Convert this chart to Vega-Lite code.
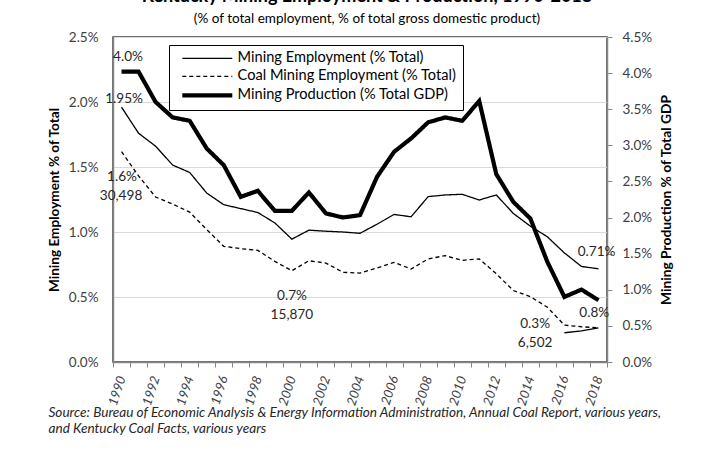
{
  "$schema": "https://vega.github.io/schema/vega-lite/v6.json",
  "width": 494,
  "height": 325,
  "autosize": {"type": "none"},
  "padding": {"left": 113, "top": 37, "right": 107, "bottom": 95},
  "config": {
    "font": "Lato",
    "view": {"stroke": "#404040", "strokeWidth": 1.5},
    "axis": {"labelColor": "#404040", "labelFont": "Lato", "titleFont": "Lato", "titleColor": "#000000"}
  },
  "title": {
    "text": "Kentucky Mining Employment & Production, 1990-2018",
    "subtitle": "(% of total employment, % of total gross domestic product)",
    "fontSize": 18,
    "fontWeight": "bold",
    "subtitleFontSize": 13.5,
    "subtitleColor": "#000000",
    "subtitlePadding": 6,
    "anchor": "middle",
    "dx": 7,
    "offset": 5
  },
  "datasets": {
    "series": [
      {"year": 1990, "series": "Mining Employment (% Total)", "value": 1.96},
      {"year": 1991, "series": "Mining Employment (% Total)", "value": 1.76},
      {"year": 1992, "series": "Mining Employment (% Total)", "value": 1.66},
      {"year": 1993, "series": "Mining Employment (% Total)", "value": 1.515},
      {"year": 1994, "series": "Mining Employment (% Total)", "value": 1.458},
      {"year": 1995, "series": "Mining Employment (% Total)", "value": 1.30},
      {"year": 1996, "series": "Mining Employment (% Total)", "value": 1.21},
      {"year": 1997, "series": "Mining Employment (% Total)", "value": 1.18},
      {"year": 1998, "series": "Mining Employment (% Total)", "value": 1.15},
      {"year": 1999, "series": "Mining Employment (% Total)", "value": 1.07},
      {"year": 2000, "series": "Mining Employment (% Total)", "value": 0.945},
      {"year": 2001, "series": "Mining Employment (% Total)", "value": 1.014},
      {"year": 2002, "series": "Mining Employment (% Total)", "value": 1.006},
      {"year": 2003, "series": "Mining Employment (% Total)", "value": 1.0},
      {"year": 2004, "series": "Mining Employment (% Total)", "value": 0.99},
      {"year": 2005, "series": "Mining Employment (% Total)", "value": 1.06},
      {"year": 2006, "series": "Mining Employment (% Total)", "value": 1.135},
      {"year": 2007, "series": "Mining Employment (% Total)", "value": 1.117},
      {"year": 2008, "series": "Mining Employment (% Total)", "value": 1.272},
      {"year": 2009, "series": "Mining Employment (% Total)", "value": 1.285},
      {"year": 2010, "series": "Mining Employment (% Total)", "value": 1.29},
      {"year": 2011, "series": "Mining Employment (% Total)", "value": 1.246},
      {"year": 2012, "series": "Mining Employment (% Total)", "value": 1.285},
      {"year": 2013, "series": "Mining Employment (% Total)", "value": 1.143},
      {"year": 2014, "series": "Mining Employment (% Total)", "value": 1.045},
      {"year": 2015, "series": "Mining Employment (% Total)", "value": 0.963},
      {"year": 2016, "series": "Mining Employment (% Total)", "value": 0.839},
      {"year": 2017, "series": "Mining Employment (% Total)", "value": 0.735},
      {"year": 2018, "series": "Mining Employment (% Total)", "value": 0.717},
      {"year": 1990, "series": "Coal Mining Employment (% Total)", "value": 1.618},
      {"year": 1991, "series": "Coal Mining Employment (% Total)", "value": 1.432},
      {"year": 1992, "series": "Coal Mining Employment (% Total)", "value": 1.269},
      {"year": 1993, "series": "Coal Mining Employment (% Total)", "value": 1.215},
      {"year": 1994, "series": "Coal Mining Employment (% Total)", "value": 1.153},
      {"year": 1995, "series": "Coal Mining Employment (% Total)", "value": 1.019},
      {"year": 1996, "series": "Coal Mining Employment (% Total)", "value": 0.89},
      {"year": 1997, "series": "Coal Mining Employment (% Total)", "value": 0.872},
      {"year": 1998, "series": "Coal Mining Employment (% Total)", "value": 0.859},
      {"year": 1999, "series": "Coal Mining Employment (% Total)", "value": 0.774},
      {"year": 2000, "series": "Coal Mining Employment (% Total)", "value": 0.702},
      {"year": 2001, "series": "Coal Mining Employment (% Total)", "value": 0.779},
      {"year": 2002, "series": "Coal Mining Employment (% Total)", "value": 0.761},
      {"year": 2003, "series": "Coal Mining Employment (% Total)", "value": 0.69},
      {"year": 2004, "series": "Coal Mining Employment (% Total)", "value": 0.684},
      {"year": 2005, "series": "Coal Mining Employment (% Total)", "value": 0.723},
      {"year": 2006, "series": "Coal Mining Employment (% Total)", "value": 0.766},
      {"year": 2007, "series": "Coal Mining Employment (% Total)", "value": 0.715},
      {"year": 2008, "series": "Coal Mining Employment (% Total)", "value": 0.793},
      {"year": 2009, "series": "Coal Mining Employment (% Total)", "value": 0.818},
      {"year": 2010, "series": "Coal Mining Employment (% Total)", "value": 0.782},
      {"year": 2011, "series": "Coal Mining Employment (% Total)", "value": 0.793},
      {"year": 2012, "series": "Coal Mining Employment (% Total)", "value": 0.679},
      {"year": 2013, "series": "Coal Mining Employment (% Total)", "value": 0.55},
      {"year": 2014, "series": "Coal Mining Employment (% Total)", "value": 0.503},
      {"year": 2015, "series": "Coal Mining Employment (% Total)", "value": 0.421},
      {"year": 2016, "series": "Coal Mining Employment (% Total)", "value": 0.284},
      {"year": 2017, "series": "Coal Mining Employment (% Total)", "value": 0.271},
      {"year": 2018, "series": "Coal Mining Employment (% Total)", "value": 0.263},
      {"year": 1990, "series": "Mining Production (% Total GDP)", "value": 4.02},
      {"year": 1991, "series": "Mining Production (% Total GDP)", "value": 4.02},
      {"year": 1992, "series": "Mining Production (% Total GDP)", "value": 3.6},
      {"year": 1993, "series": "Mining Production (% Total GDP)", "value": 3.387},
      {"year": 1994, "series": "Mining Production (% Total GDP)", "value": 3.34},
      {"year": 1995, "series": "Mining Production (% Total GDP)", "value": 2.957},
      {"year": 1996, "series": "Mining Production (% Total GDP)", "value": 2.726},
      {"year": 1997, "series": "Mining Production (% Total GDP)", "value": 2.287},
      {"year": 1998, "series": "Mining Production (% Total GDP)", "value": 2.37},
      {"year": 1999, "series": "Mining Production (% Total GDP)", "value": 2.093},
      {"year": 2000, "series": "Mining Production (% Total GDP)", "value": 2.093},
      {"year": 2001, "series": "Mining Production (% Total GDP)", "value": 2.348},
      {"year": 2002, "series": "Mining Production (% Total GDP)", "value": 2.057},
      {"year": 2003, "series": "Mining Production (% Total GDP)", "value": 2.001},
      {"year": 2004, "series": "Mining Production (% Total GDP)", "value": 2.033},
      {"year": 2005, "series": "Mining Production (% Total GDP)", "value": 2.564},
      {"year": 2006, "series": "Mining Production (% Total GDP)", "value": 2.91},
      {"year": 2007, "series": "Mining Production (% Total GDP)", "value": 3.096},
      {"year": 2008, "series": "Mining Production (% Total GDP)", "value": 3.318},
      {"year": 2009, "series": "Mining Production (% Total GDP)", "value": 3.387},
      {"year": 2010, "series": "Mining Production (% Total GDP)", "value": 3.34},
      {"year": 2011, "series": "Mining Production (% Total GDP)", "value": 3.613},
      {"year": 2012, "series": "Mining Production (% Total GDP)", "value": 2.601},
      {"year": 2013, "series": "Mining Production (% Total GDP)", "value": 2.217},
      {"year": 2014, "series": "Mining Production (% Total GDP)", "value": 1.987},
      {"year": 2015, "series": "Mining Production (% Total GDP)", "value": 1.386},
      {"year": 2016, "series": "Mining Production (% Total GDP)", "value": 0.901},
      {"year": 2017, "series": "Mining Production (% Total GDP)", "value": 1.003},
      {"year": 2018, "series": "Mining Production (% Total GDP)", "value": 0.855}
    ],
    "extra": [
      {"year": 2016, "value": 0.225},
      {"year": 2017, "value": 0.24},
      {"year": 2018, "value": 0.263}
    ],
    "notes": [
      {"year": 1990.38, "pos": 2.35, "label": "4.0%"},
      {"year": 1990.15, "pos": 2.025, "label": "1.95%"},
      {"year": 1990.03, "pos": 1.422, "label": "1.6%"},
      {"year": 1989.97, "pos": 1.275, "label": "30,498"},
      {"year": 2000.01, "pos": 0.508, "label": "0.7%"},
      {"year": 2000.0, "pos": 0.362, "label": "15,870"},
      {"year": 2017.89, "pos": 0.849, "label": "0.71%"},
      {"year": 2017.75, "pos": 0.377, "label": "0.8%"},
      {"year": 2014.28, "pos": 0.292, "label": "0.3%"},
      {"year": 2014.28, "pos": 0.145, "label": "6,502"}
    ]
  },
  "encoding": {
    "x": {
      "field": "year",
      "type": "quantitative",
      "scale": {"domain": [1989.5, 2018.5], "nice": false, "zero": false},
      "axis": {
        "values": [1989.5, 1990.5, 1991.5, 1992.5, 1993.5, 1994.5, 1995.5, 1996.5, 1997.5, 1998.5, 1999.5, 2000.5, 2001.5, 2002.5, 2003.5, 2004.5, 2005.5, 2006.5, 2007.5, 2008.5, 2009.5, 2010.5, 2011.5, 2012.5, 2013.5, 2014.5, 2015.5, 2016.5, 2017.5, 2018.5],
        "labelExpr": "(datum.value + 0.5) % 2 == 0 && datum.value < 2018 ? '' + (datum.value + 0.5) : ''",
        "labelAngle": -72,
        "labelAlign": "right",
        "labelBaseline": "middle",
        "labelOffset": 8.5,
        "labelPadding": 9,
        "labelFontStyle": "italic",
        "labelFontSize": 13,
        "labelFlush": false,
        "labelOverlap": false,
        "labelBound": false,
        "tickSize": 5,
        "tickColor": "#868686",
        "domainColor": "#868686",
        "domainWidth": 1.5,
        "grid": false,
        "title": ["Source: Bureau of Economic Analysis & Energy Information Administration, Annual Coal Report, various years,", "and Kentucky Coal Facts, various years"],
        "titleFontStyle": "italic",
        "titleFontWeight": "normal",
        "titleFontSize": 13.6,
        "titleColor": "#262626",
        "titleAnchor": "start",
        "titleAlign": "left",
        "titleBaseline": "top",
        "titleLineHeight": 16.5,
        "titleX": -65,
        "titleY": 43
      }
    }
  },
  "layer": [
    {
      "layer": [
        {
          "data": {"name": "series"},
          "transform": [{"filter": "datum.series != 'Mining Production (% Total GDP)'"}],
          "mark": {"type": "line", "color": "#000000", "strokeWidth": 1.3},
          "encoding": {
            "y": {
              "field": "value",
              "type": "quantitative",
              "scale": {"domain": [0, 2.5], "nice": false},
              "axis": {
                "values": [0, 0.5, 1, 1.5, 2, 2.5],
                "labelExpr": "format(datum.value, '.1f') + '%'",
                "labelFontSize": 13.5,
                "labelPadding": 15,
                "ticks": false,
                "tickSize": 0,
                "domainColor": "#868686",
                "domainWidth": 1.5,
                "grid": true,
                "gridColor": "#d9d9d9",
                "gridWidth": 1.2,
                "title": "Mining Employment % of Total",
                "titleFontSize": 13.6,
                "titleFontWeight": "bold",
                "titlePadding": 7
              }
            },
            "strokeDash": {
              "field": "series",
              "type": "nominal",
              "scale": {
                "domain": ["Mining Employment (% Total)", "Coal Mining Employment (% Total)", "Mining Production (% Total GDP)"],
                "range": [[1, 0], [4, 3], [1, 0]]
              },
              "legend": {
                "title": null,
                "orient": "none",
                "legendX": 56,
                "legendY": 8,
                "symbolType": "M-5,0H5",
                "symbolSize": 100,
                "symbolStrokeColor": "#000000",
                "symbolStrokeWidth": 1.3,
                "symbolOffset": 25,
                "labelFontSize": 14.6,
                "labelColor": "#000000",
                "labelFont": "Lato",
                "labelOffset": 23,
                "labelLimit": 400,
                "rowPadding": 3,
                "padding": 6,
                "strokeColor": "#000000",
                "fillColor": "#ffffff",
                "encode": {
                  "symbols": {
                    "update": {
                      "strokeWidth": {"signal": "datum.value === 'Mining Production (% Total GDP)' ? 4.2 : 1.3"}
                    }
                  }
                }
              }
            }
          }
        },
        {
          "data": {"name": "extra"},
          "mark": {"type": "line", "color": "#000000", "strokeWidth": 1.3},
          "encoding": {
            "y": {"field": "value", "type": "quantitative"}
          }
        },
        {
          "data": {"name": "notes"},
          "mark": {"type": "text", "fontSize": 13.6, "color": "#262626", "font": "Lato"},
          "encoding": {
            "y": {"field": "pos", "type": "quantitative"},
            "text": {"field": "label", "type": "nominal"}
          }
        }
      ]
    },
    {
      "data": {"name": "series"},
      "transform": [{"filter": "datum.series == 'Mining Production (% Total GDP)'"}],
      "mark": {"type": "line", "color": "#000000", "strokeWidth": 4.2},
      "encoding": {
        "y": {
          "field": "value",
          "type": "quantitative",
          "scale": {"domain": [0, 4.5], "nice": false},
          "axis": {
            "orient": "right",
            "values": [0, 0.5, 1, 1.5, 2, 2.5, 3, 3.5, 4, 4.5],
            "labelExpr": "format(datum.value, '.1f') + '%'",
            "labelFontSize": 13.5,
            "labelPadding": 10,
            "tickSize": 5,
            "tickColor": "#868686",
            "domainColor": "#868686",
            "domainWidth": 1.5,
            "grid": false,
            "title": "Mining Production % of Total GDP",
            "titleAngle": 270,
            "titleFontSize": 13.8,
            "titleFontWeight": "bold",
            "titlePadding": 22
          }
        },
        "strokeDash": {"field": "series", "type": "nominal"}
      }
    }
  ],
  "resolve": {"scale": {"y": "independent"}}
}
